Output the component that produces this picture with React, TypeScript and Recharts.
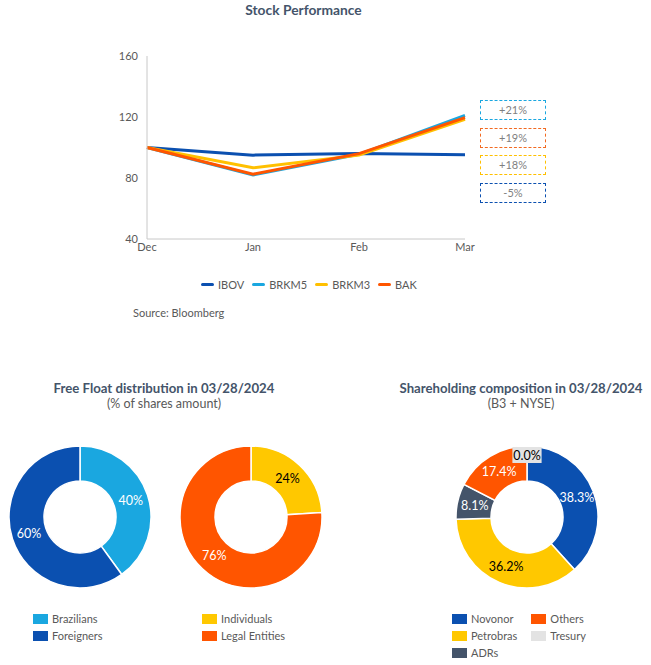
import React from 'react';
import { LineChart, Line, XAxis, YAxis, PieChart, Pie, Cell } from 'recharts';

const FONT = 'Lato, "Open Sans", sans-serif';
const TITLE = '#44546A';
const TEXT = '#595959';

// ---- Stock performance data ----
const months = ['Dec', 'Jan', 'Feb', 'Mar'];
const ibov = [100, 95, 96, 95.3];
const brkm5 = [100, 82, 95.5, 121];
const brkm3 = [100, 86.7, 95, 118.5];
const bak = [100, 82.5, 96, 119.6];
const seriesNames = ['IBOV', 'BRKM5', 'BRKM3', 'BAK'];
const seriesColors = ['#0B50B0', '#1AA7E0', '#FFC000', '#FF5500'];
const yTicks = [40, 80, 120, 160];

const returnLabels = ['+21%', '+19%', '+18%', '-5%'];
const returnColors = ['#1AA7E0', '#F26A21', '#FFC000', '#0B50B0'];

// ---- Free float data ----
const originLabels = ['Brazilians', 'Foreigners'];
const originValues = [40, 60];
const originColors = ['#1AA7E0', '#0B50B0'];
const originText = ['#FFFFFF', '#FFFFFF'];

const typeLabels = ['Individuals', 'Legal Entities'];
const typeValues = [24, 76];
const typeColors = ['#FFC800', '#FF5500'];
const typeText = ['#000000', '#FFFFFF'];

// ---- Shareholding data ----
const holdLabels = ['Novonor', 'Petrobras', 'ADRs', 'Others', 'Tresury'];
const holdValues = [38.3, 36.2, 8.1, 17.4, 0.0];
const holdColors = ['#0B50B0', '#FFC800', '#44546A', '#FF5500', '#E3E3E3'];
const holdText = ['#FFFFFF', '#000000', '#FFFFFF', '#FFFFFF', '#000000'];

const lineData = months.map((m, i) => ({
  month: m,
  IBOV: ibov[i],
  BRKM5: brkm5[i],
  BRKM3: brkm3[i],
  BAK: bak[i],
}));

const toPie = (labels: string[], values: number[]) =>
  labels.map((l, i) => ({ name: l, value: values[i] }));

const RAD = Math.PI / 180;

const makeLabel = (textColors: string[], bgColors: (string | null)[], decimals: number) => (props: any) => {
  const { cx, cy, midAngle, innerRadius, outerRadius, index, value } = props;
  const tiny = value < 1;
  const r = tiny ? outerRadius - 9 : (innerRadius + outerRadius) / 2;
  const x = cx + r * Math.cos(-midAngle * RAD);
  const y = cy + r * Math.sin(-midAngle * RAD);
  const txt = `${Number(value).toFixed(decimals)}%`;
  const bg = bgColors[index];
  const w = txt.length * 6.8 + 2;
  return (
    <g>
      {bg ? <rect x={x - w / 2} y={y - 8} width={w} height={16} fill={bg} /> : null}
      <text x={x} y={y} fill={textColors[index]} textAnchor="middle" dominantBaseline="central" fontSize={12.5} fontFamily={FONT}>
        {txt}
      </text>
    </g>
  );
};

const Title = ({ cx, top, bold, sub }: { cx: number; top: number; bold: string; sub: string }) => (
  <div style={{ position: 'absolute', left: cx - 150, top, width: 300, textAlign: 'center', fontFamily: FONT, lineHeight: '15px' }}>
    <div style={{ fontWeight: 700, fontSize: 13.2, color: TITLE }}>{bold}</div>
    <div style={{ fontSize: 12.5, color: TEXT }}>{sub}</div>
  </div>
);

const SquareLegend = ({ left, top, labels, colors, columns }: { left: number; top: number; labels: string[]; colors: string[]; columns: number }) => (
  <div
    style={{
      position: 'absolute',
      left,
      top,
      display: 'grid',
      gridTemplateRows: `repeat(${Math.ceil(labels.length / columns)}, 17px)`,
      gridAutoFlow: 'column',
      columnGap: 14,
      fontFamily: FONT,
      fontSize: 11,
      color: TEXT,
    }}
  >
    {labels.map((l, i) => (
      <div key={l} style={{ display: 'flex', alignItems: 'center', height: 17 }}>
        <span style={{ display: 'inline-block', width: 15, height: 10, background: colors[i], marginRight: 4 }} />
        <span>{l}</span>
      </div>
    ))}
  </div>
);

export default function App() {
  const originLabel = makeLabel(originText, [null, null], 0);
  const typeLabel = makeLabel(typeText, [null, null], 0);
  const holdLabel = makeLabel(holdText, [null, null, null, null, '#E3E3E3'], 1);
  return (
    <div style={{ position: 'absolute', left: 0, top: 0, width: 651, height: 665, background: '#fff', overflow: 'hidden' }}>
      <div style={{ position: 'absolute', left: 0, top: 1, width: 607, textAlign: 'center', fontFamily: FONT, fontWeight: 700, fontSize: 13.8, color: TITLE }}>
        Stock Performance
      </div>
      <div style={{ position: 'absolute', left: 0, top: 0 }}>
        <LineChart width={651} height={260} data={lineData} margin={{ top: 56, right: 186, bottom: 0, left: 100 }}>
          <XAxis
            dataKey="month"
            height={21}
            tickLine={false}
            tickSize={0}
            tickMargin={4}
            axisLine={{ stroke: '#C8C8C8' }}
            tick={{ fill: TEXT, fontSize: 11, fontFamily: FONT }}
            interval={0}
          />
          <YAxis
            width={47}
            domain={[40, 160]}
            ticks={yTicks}
            tickLine={false}
            tickSize={0}
            tickMargin={9}
            axisLine={{ stroke: '#C8C8C8' }}
            tick={{ fill: TEXT, fontSize: 11, fontFamily: FONT }}
          />
          {seriesNames.map((s, i) => (
            <Line key={s} dataKey={s} stroke={seriesColors[i]} strokeWidth={3} dot={false} isAnimationActive={false} />
          ))}
        </LineChart>
      </div>
      {returnLabels.map((l, i) => (
        <div
          key={l}
          style={{
            position: 'absolute',
            left: 480,
            top: 100 + i * 27.5,
            width: 64,
            height: 18,
            border: `1.5px dashed ${returnColors[i]}`,
            textAlign: 'center',
            lineHeight: '18px',
            fontFamily: FONT,
            fontSize: 11,
            color: '#7F7F7F',
          }}
        >
          {l}
        </div>
      ))}
      <div style={{ position: 'absolute', left: 201, top: 277, display: 'flex', fontFamily: FONT, fontSize: 11, color: TEXT }}>
        {seriesNames.map((s, i) => (
          <div key={s} style={{ display: 'flex', alignItems: 'center', marginRight: 8, height: 14 }}>
            <span style={{ display: 'inline-block', width: 13, height: 3, borderRadius: 1.5, background: seriesColors[i], marginRight: 4 }} />
            <span>{s}</span>
          </div>
        ))}
      </div>
      <div style={{ position: 'absolute', left: 133, top: 306, fontFamily: FONT, fontSize: 11, color: TEXT }}>Source: Bloomberg</div>

      <Title cx={164} top={381} bold="Free Float distribution in 03/28/2024" sub="(% of shares amount)" />
      <Title cx={521} top={381} bold="Shareholding composition in 03/28/2024" sub="(B3 + NYSE)" />

      <div style={{ position: 'absolute', left: 0, top: 417 }}>
        <PieChart width={651} height={200} margin={{ top: 0, right: 0, bottom: 0, left: 0 }}>
          <Pie
            data={toPie(originLabels, originValues)}
            dataKey="value"
            cx={80}
            cy={100}
            innerRadius={36}
            outerRadius={71}
            startAngle={90}
            endAngle={-270}
            stroke="#FFFFFF"
            strokeWidth={1.5}
            labelLine={false}
            label={originLabel}
            isAnimationActive={false}
          >
            {originColors.map((c, i) => (
              <Cell key={i} fill={c} />
            ))}
          </Pie>
          <Pie
            data={toPie(typeLabels, typeValues)}
            dataKey="value"
            cx={251}
            cy={100}
            innerRadius={36}
            outerRadius={71}
            startAngle={90}
            endAngle={-270}
            stroke="#FFFFFF"
            strokeWidth={1.5}
            labelLine={false}
            label={typeLabel}
            isAnimationActive={false}
          >
            {typeColors.map((c, i) => (
              <Cell key={i} fill={c} />
            ))}
          </Pie>
          <Pie
            data={toPie(holdLabels, holdValues)}
            dataKey="value"
            cx={527}
            cy={100}
            innerRadius={36}
            outerRadius={71}
            startAngle={90}
            endAngle={-270}
            stroke="#FFFFFF"
            strokeWidth={1.5}
            labelLine={false}
            label={holdLabel}
            isAnimationActive={false}
          >
            {holdColors.map((c, i) => (
              <Cell key={i} fill={c} />
            ))}
          </Pie>
        </PieChart>
      </div>

      <SquareLegend left={33} top={610} labels={originLabels} colors={originColors} columns={1} />
      <SquareLegend left={202} top={610} labels={typeLabels} colors={typeColors} columns={1} />
      <SquareLegend left={452} top={610} labels={holdLabels} colors={holdColors} columns={2} />
    </div>
  );
}
